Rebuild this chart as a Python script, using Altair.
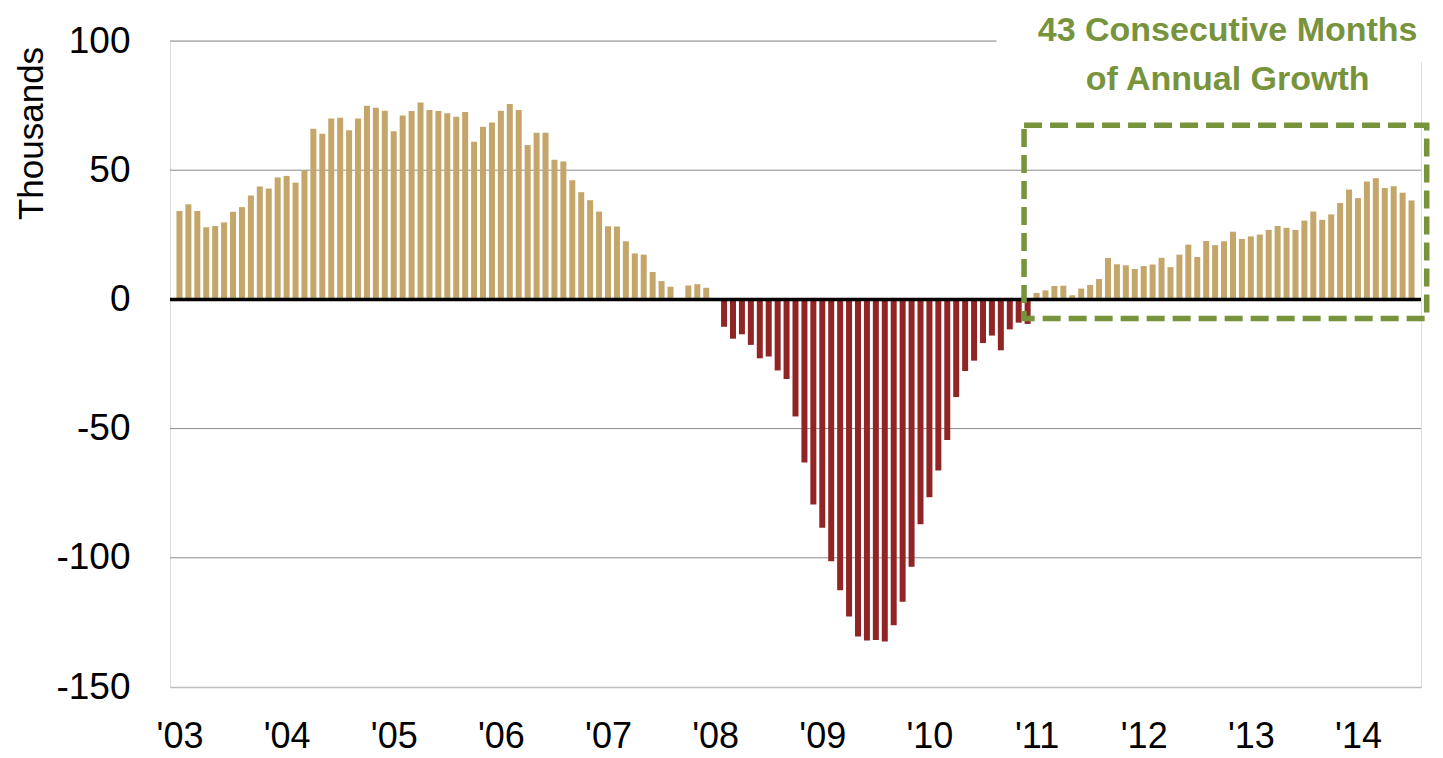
import altair as alt
import pandas as pd

# Monthly year-over-year change, thousands (Jan 2003 - Jul 2014)
v2003 = [34.2, 36.8, 34.2, 27.9, 28.4, 29.8, 33.9, 35.7, 40.2, 43.7, 42.9, 47.2]
v2004 = [47.8, 45.2, 50.0, 66.0, 64.1, 70.0, 70.3, 65.5, 70.0, 74.9, 74.2, 73.0]
v2005 = [65.1, 71.2, 72.9, 76.2, 73.3, 72.9, 72.0, 70.7, 72.5, 61.0, 66.8, 68.5]
v2006 = [73.0, 75.6, 73.3, 59.8, 64.5, 64.5, 54.0, 53.4, 46.1, 41.5, 38.4, 34.0]
v2007 = [28.3, 28.2, 22.5, 17.8, 17.3, 10.6, 7.1, 4.9, 0.0, 5.4, 5.9, 4.5]
v2008 = [0.5, -10.6, -15.2, -13.5, -17.6, -22.8, -22.1, -27.5, -30.8, -45.3, -63.1, -79.4]
v2009 = [-88.4, -101.3, -112.6, -122.7, -130.5, -132.0, -131.8, -132.4, -126.1, -117.0, -103.5, -87.0]
v2010 = [-76.6, -66.2, -54.4, -37.8, -27.7, -23.7, -16.9, -14.0, -19.7, -11.6, -9.0, -9.5]
v2011 = [2.5, 3.5, 5.2, 5.3, 1.6, 4.2, 5.6, 7.9, 16.0, 13.6, 13.2, 11.8]
v2012 = [12.9, 13.5, 16.1, 12.5, 17.3, 21.2, 16.4, 22.6, 21.0, 22.5, 26.2, 23.4]
v2013 = [24.4, 25.1, 26.9, 28.4, 27.7, 26.9, 30.5, 34.0, 30.8, 32.9, 37.3, 42.5]
v2014 = [39.2, 45.6, 46.9, 43.1, 43.8, 41.3, 38.3]

year_labels = ["'03", "'04", "'05", "'06", "'07", "'08", "'09", "'10", "'11", "'12", "'13", "'14"]
y_ticks = [-150, -100, -50, 0, 50, 100]
gridline_values = [100, 50, -50, -100]
annotation_lines = ["43 Consecutive Months", "of Annual Growth"]
y_title = "Thousands"

values = v2003 + v2004 + v2005 + v2006 + v2007 + v2008 + v2009 + v2010 + v2011 + v2012 + v2013 + v2014
df = pd.DataFrame({"i": list(range(len(values))), "v": values})
one_row = pd.DataFrame({"k": [0]})

FONT = "Liberation Sans"
TAN = "#C4A66A"
RED = "#912525"
GREEN = "#77933C"

x_scale = alt.Scale(domain=[-0.5, 138.5], nice=False, zero=False)
y_scale = alt.Scale(domain=[-150, 100], nice=False, zero=False)

label_expr = "[" + ",".join('"%s"' % s for s in year_labels) + "][round(datum.value/12)]"

x_axis = alt.Axis(
    title=None, values=[12 * k for k in range(len(year_labels))], labelExpr=label_expr,
    grid=False, ticks=False, tickSize=0, domain=True, domainColor="#BFBFBF", domainWidth=1.5,
    labelFont=FONT, labelFontSize=36, labelColor="#000000", labelPadding=32,
    labelAlign="center", labelBaseline="top", labelFlush=False, labelOverlap=False,
)
y_axis = alt.Axis(
    title=y_title, values=y_ticks, labelExpr="'' + datum.value",
    grid=False, ticks=False, domain=False,
    labelFont=FONT, labelFontSize=37, labelColor="#000000", labelPadding=40,
    labelAlign="right", labelBaseline="middle",
    titleFont=FONT, titleFontSize=35, titleFontWeight="normal", titleColor="#000000",
    titleAngle=270, titleX=-139, titleY=92, titleAlign="center", titleBaseline="middle",
)

grid = alt.Chart(pd.DataFrame({"g": gridline_values})).mark_rule(
    color="#8C8C8C", strokeWidth=1
).encode(y=alt.Y("g:Q", scale=y_scale, axis=y_axis))

cover = alt.Chart(one_row).mark_rect(color="#FFFFFF").encode(
    x=alt.XDatum(91.5, scale=x_scale), x2=alt.X2Datum(141),
    y=alt.YDatum(92, scale=y_scale), y2=alt.Y2Datum(120),
)

bars = alt.Chart(df).mark_bar(size=6).encode(
    x=alt.X("i:Q", scale=x_scale, axis=x_axis),
    y=alt.Y("v:Q", scale=y_scale, axis=y_axis),
    color=alt.condition(alt.datum.v < 0, alt.value(RED), alt.value(TAN)),
)

zero_line = alt.Chart(pd.DataFrame({"z": [0]})).mark_rule(
    color="#000000", strokeWidth=3.5
).encode(y=alt.Y("z:Q", scale=y_scale))

box = alt.Chart(one_row).mark_rect(
    fill="#FFFFFF", fillOpacity=0, stroke=GREEN, strokeWidth=5.5, strokeDash=[18, 8]
).encode(
    x=alt.XDatum(94.6, scale=x_scale), x2=alt.X2Datum(139.7),
    y=alt.YDatum(67.4, scale=y_scale), y2=alt.Y2Datum(-7.4),
)

text1 = alt.Chart(one_row).mark_text(
    font=FONT, fontSize=34, fontWeight="bold", color=GREEN, align="center", baseline="middle"
).encode(
    x=alt.XDatum(117.4, scale=x_scale), y=alt.YDatum(104.0, scale=y_scale),
    text=alt.value(annotation_lines[0]),
)
text2 = alt.Chart(one_row).mark_text(
    font=FONT, fontSize=34, fontWeight="bold", color=GREEN, align="center", baseline="middle"
).encode(
    x=alt.XDatum(117.4, scale=x_scale), y=alt.YDatum(84.8, scale=y_scale),
    text=alt.value(annotation_lines[1]),
)

chart = alt.layer(grid, cover, bars, zero_line, box, text1, text2).properties(
    width=1251, height=646,
    autosize=alt.AutoSizeParams(type="none"),
    padding={"left": 162, "top": 33, "right": 14, "bottom": 68},
).configure_view(stroke=None).configure(background="#FFFFFF")

chart.save("out.html", embed_options={"renderer": "svg", "actions": False})
